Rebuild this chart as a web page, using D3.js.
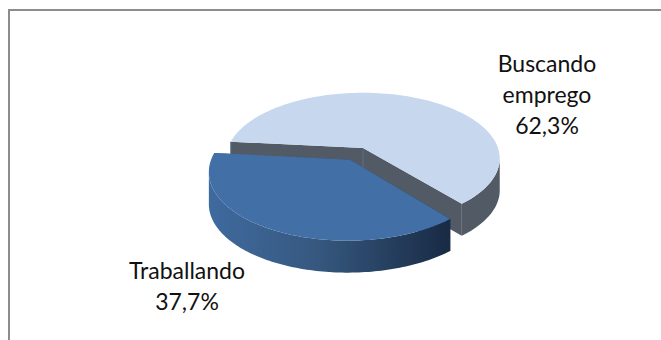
<!DOCTYPE html>
<html>
<head>
<meta charset="utf-8">
<script src="https://cdn.jsdelivr.net/npm/d3@7"></script>
<style>
  html, body { margin: 0; background: #fff; }
  svg { display: block; }
  text { font-family: Lato, "Open Sans", sans-serif; font-size: 23px; fill: #111; }
</style>
</head>
<body>
<svg id="chart" width="661" height="340"></svg>
<script>
var categories = ["Traballando", "Buscando emprego"];
var values = [37.7, 62.3];
var labelLines = [["Traballando", "37,7%"], ["Buscando", "emprego", "62,3%"]];

var width = 661, height = 340;
var cx = 363, cy = 148;
var rx = 135, ry = 64, persp = 0.159;
var depth = 32;
var explode = [0.2, 0];
var startDeg = 140;

var svg = d3.select("#chart");

// chart frame
svg.append("path")
  .attr("d", "M9,340V10H" + width)
  .attr("fill", "none")
  .attr("stroke", "#8c8c8c")
  .attr("stroke-width", 2);

var defs = svg.append("defs");
var rimGrad = defs.append("linearGradient")
  .attr("id", "rimGrad")
  .attr("gradientUnits", "userSpaceOnUse")
  .attr("x1", 210).attr("x2", 448)
  .attr("y1", 0).attr("y2", 0);
rimGrad.append("stop").attr("offset", "0").attr("stop-color", "#3f6a9e");
rimGrad.append("stop").attr("offset", "0.45").attr("stop-color", "#36587f");
rimGrad.append("stop").attr("offset", "1").attr("stop-color", "#192b45");

var topColor = ["#426fa5", "#c6d7ee"];
var sideColor = ["url(#rimGrad)", "#515a65"];

var pie = d3.pie().sort(null)
  .startAngle(startDeg * Math.PI / 180)
  .endAngle((startDeg + 360) * Math.PI / 180);
var arcs = pie(values);

// plane point -> screen, front of the pie is a bit larger
function project(p) {
  var s = 1 / (1 - persp * p[1]);
  return [cx + rx * p[0] * s, cy + ry * p[1] * s];
}

// outline of a slice in the pie plane: apex first, then the rim
function slicePoints(d, i) {
  var mid = (d.startAngle + d.endAngle) / 2;
  var ox = Math.sin(mid) * explode[i], oy = -Math.cos(mid) * explode[i];
  var pts = [[ox, oy]];
  d3.range(0, 121).forEach(function(k) {
    var a = d.startAngle + (d.endAngle - d.startAngle) * k / 120;
    pts.push([ox + Math.sin(a), oy - Math.cos(a)]);
  });
  return pts.map(project);
}

function dropped(p) {
  return [p[0], p[1] + depth];
}

var line = d3.line().curve(d3.curveLinearClosed);

// light slice first, the pulled out one lands in front of it
[1, 0].forEach(function(i) {
  var pts = slicePoints(arcs[i], i);
  var apex = pts[0];
  var rim = pts.slice(1);
  var g = svg.append("g").attr("class", "slice");

  // only the part of the rim running right to left faces the viewer
  var frontRim = rim.filter(function(p, k) {
    return k + 1 < rim.length ? rim[k + 1][0] < p[0] : rim[k - 1][0] > p[0];
  });

  var first = rim[0], last = rim[rim.length - 1];
  var sides = [
    [apex, first, dropped(first), dropped(apex)],
    [apex, last, dropped(last), dropped(apex)],
    frontRim.concat(frontRim.map(dropped).reverse())
  ];

  g.selectAll(".side")
    .data(sides)
    .enter().append("path")
    .attr("class", "side")
    .attr("d", line)
    .attr("fill", sideColor[i]);

  // faint vertical edges where the light slice was cut
  if (i == 1) {
    g.selectAll(".edge")
      .data([apex, first])
      .enter().append("line")
      .attr("class", "edge")
      .attr("x1", function(p) { return p[0]; })
      .attr("x2", function(p) { return p[0]; })
      .attr("y1", function(p) { return p[1]; })
      .attr("y2", function(p) { return p[1] + depth; })
      .attr("stroke", "#5b6f8a")
      .attr("stroke-width", 1);
  }

  g.append("path")
    .attr("d", line(pts))
    .attr("fill", topColor[i]);

  g.append("title").text(categories[i]);
});

var labelX = [187, 547];
var labelY = [279, 72];
var lineStep = 31;

labelLines.forEach(function(lines, i) {
  var t = svg.append("text")
    .attr("text-anchor", "middle");
  lines.forEach(function(s, k) {
    t.append("tspan")
      .attr("x", labelX[i])
      .attr("y", labelY[i] + k * lineStep)
      .text(s);
  });
});
</script>
</body>
</html>
